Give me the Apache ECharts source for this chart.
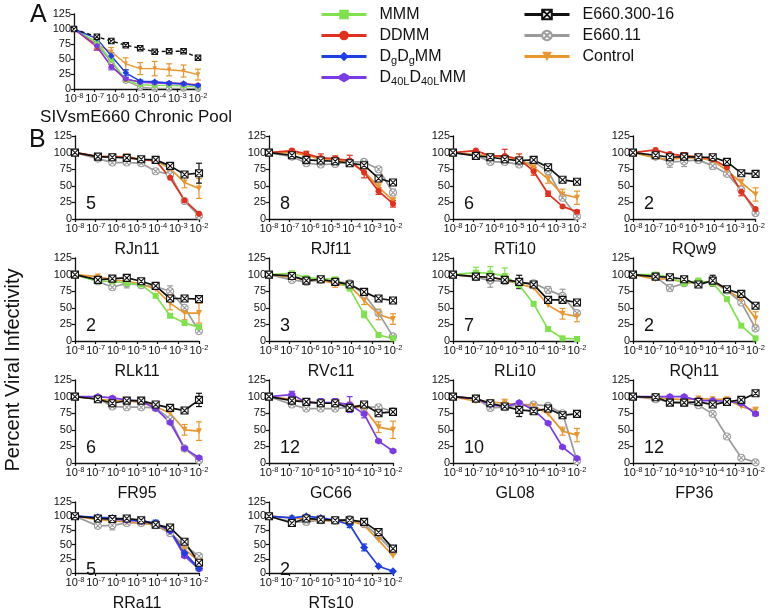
<!DOCTYPE html>
<html><head><meta charset="utf-8">
<script src="https://cdn.jsdelivr.net/npm/echarts@6/dist/echarts.min.js"></script>
<style>html,body{margin:0;padding:0;background:#fff}#c{width:768px;height:613px}</style>
</head><body><div id="c"></div>
<script>
// ---------- DATA ----------
const CONC = [1e-8, 1.28e-7, 6.4e-7, 3.2e-6, 1.6e-5, 8e-5, 4e-4, 2e-3, 1e-2];
const Y_TICKS = [0, 25, 50, 75, 100, 125];
const NAMES = ['MMM', 'DDMM', 'DgDgMM', 'D40LD40LMM', 'E660.300-16', 'E660.11', 'Control'];

const PANEL_A = { title: 'SIVsmE660 Chronic Pool', n: '',
  lines: {
    'E660.11': [100, 75, 45, 14, 3, 1, 1, 1, 1],
    'Control': [100, 74, 62, 42, 34, 34, 32, 30, 24],
    'MMM': [100, 78, 48, 15, 7, 6, 6, 5, 4],
    'DDMM': [100, 70, 38, 16, 12, 11, 10, 9, 7],
    'D40LD40LMM': [100, 72, 37, 17, 11, 10, 9, 8, 6],
    'DgDgMM': [100, 84, 55, 27, 13, 12, 10, 9, 6],
    'E660.300-16': [100, 87, 80, 73, 68, 62, 63, 63, 52]
  },
  errs: {
    'Control': [0, 7, 7, 10, 10, 12, 10, 10, 9],
    'DDMM': [0, 5, 3, 2, 2, 2, 2, 2, 1],
    'D40LD40LMM': [0, 7, 5, 2, 1, 1, 1, 1, 1],
    'DgDgMM': [0, 2, 5, 5, 2, 1, 1, 1, 1]
  }
};
const RJn11 = { title: 'RJn11', n: '5', lines: {
    'E660.11': [100, 91, 85, 85, 84, 72, 67, 27, 5],
    'Control': [100, 94, 94, 94, 90, 88, 76, 55, 46],
    'DDMM': [100, 94, 94, 93, 89, 88, 62, 28, 8],
    'E660.300-16': [100, 94, 93, 92, 90, 89, 80, 67, 69] },
  errs: { 'Control': [0, 2, 3, 3, 2, 2, 3, 8, 15], 'E660.300-16': [0, 0, 0, 0, 0, 0, 0, 0, 15], 'E660.11': [0, 0, 0, 0, 0, 3, 0, 0, 0] } };
const RJf11 = { title: 'RJf11', n: '8', lines: {
    'E660.11': [100, 94, 84, 82, 83, 86, 86, 75, 40],
    'Control': [100, 100, 96, 90, 90, 85, 72, 48, 28],
    'DDMM': [100, 103, 98, 92, 91, 88, 70, 42, 23],
    'E660.300-16': [100, 96, 89, 88, 87, 84, 81, 61, 55] },
  errs: { 'DDMM': [0, 2, 4, 6, 4, 8, 8, 5, 5], 'Control': [0, 0, 0, 0, 0, 0, 0, 6, 4], 'E660.11': [0, 0, 0, 0, 0, 0, 0, 0, 5] } };
const RTi10 = { title: 'RTi10', n: '6', lines: {
    'E660.11': [100, 96, 86, 86, 82, 86, 72, 32, 4],
    'Control': [100, 97, 95, 93, 90, 78, 60, 37, 32],
    'DDMM': [100, 103, 95, 95, 90, 72, 38, 19, 11],
    'E660.300-16': [100, 95, 93, 90, 88, 89, 78, 59, 56] },
  errs: { 'Control': [0, 0, 0, 0, 0, 6, 6, 8, 10], 'DDMM': [0, 0, 0, 10, 8, 6, 4, 0, 2], 'E660.300-16': [0, 5, 0, 0, 0, 0, 4, 0, 0] } };
const RQw9 = { title: 'RQw9', n: '2', lines: {
    'E660.11': [100, 94, 86, 87, 89, 80, 68, 44, 9],
    'Control': [100, 92, 90, 92, 92, 88, 73, 55, 37],
    'DDMM': [100, 104, 98, 95, 94, 90, 78, 41, 15],
    'E660.300-16': [100, 96, 93, 94, 93, 93, 86, 69, 68] },
  errs: { 'E660.11': [0, 0, 8, 8, 0, 5, 0, 0, 0], 'Control': [0, 0, 0, 0, 0, 0, 0, 5, 10], 'DDMM': [0, 0, 0, 5, 0, 5, 0, 6, 0] } };
const RLk11 = { title: 'RLk11', n: '2', lines: {
    'E660.11': [100, 90, 81, 87, 84, 82, 75, 50, 15],
    'Control': [100, 97, 92, 90, 86, 78, 57, 42, 42],
    'MMM': [100, 90, 90, 87, 85, 68, 38, 27, 21],
    'E660.300-16': [100, 92, 94, 95, 90, 83, 64, 64, 63] },
  errs: { 'Control': [0, 0, 0, 0, 0, 0, 10, 10, 15], 'E660.11': [0, 0, 0, 7, 0, 0, 8, 0, 0] } };
const RVc11 = { title: 'RVc11', n: '3', lines: {
    'E660.11': [100, 92, 89, 92, 90, 87, 70, 42, 7],
    'Control': [100, 96, 92, 92, 86, 83, 61, 40, 33],
    'MMM': [100, 102, 95, 94, 93, 79, 40, 9, 4],
    'E660.300-16': [100, 98, 91, 93, 89, 85, 74, 64, 61] },
  errs: { 'Control': [0, 0, 0, 0, 5, 0, 6, 8, 8], 'MMM': [0, 0, 0, 0, 0, 0, 5, 0, 0] } };
const RLi10 = { title: 'RLi10', n: '7', lines: {
    'E660.11': [100, 96, 91, 90, 88, 87, 77, 68, 42],
    'Control': [100, 97, 96, 92, 86, 80, 54, 41, 37],
    'MMM': [100, 103, 102, 98, 84, 56, 18, 4, 3],
    'E660.300-16': [100, 97, 96, 92, 89, 85, 62, 62, 58] },
  errs: { 'MMM': [0, 8, 10, 12, 0, 0, 0, 0, 0], 'E660.11': [0, 0, 10, 0, 0, 0, 5, 10, 0], 'E660.300-16': [0, 0, 0, 0, 10, 0, 0, 0, 0], 'Control': [0, 0, 0, 0, 0, 0, 0, 8, 8] } };
const RQh11 = { title: 'RQh11', n: '2', lines: {
    'E660.11': [100, 97, 80, 87, 89, 89, 76, 58, 19],
    'Control': [100, 93, 94, 88, 88, 90, 77, 63, 34],
    'MMM': [100, 100, 96, 87, 91, 87, 63, 23, 4],
    'E660.300-16': [100, 97, 96, 93, 85, 91, 78, 71, 53] },
  errs: { 'E660.11': [0, 0, 5, 0, 0, 0, 0, 0, 0], 'E660.300-16': [0, 0, 0, 0, 0, 8, 0, 0, 0], 'Control': [0, 0, 0, 0, 0, 0, 0, 5, 10] } };
const FR95 = { title: 'FR95', n: '6', lines: {
    'E660.11': [100, 97, 85, 84, 84, 83, 66, 22, 4],
    'Control': [100, 96, 94, 94, 91, 85, 75, 50, 48],
    'D40LD40LMM': [100, 100, 98, 95, 93, 82, 61, 22, 8],
    'E660.300-16': [100, 96, 90, 94, 94, 88, 83, 79, 95] },
  errs: { 'E660.300-16': [0, 0, 5, 0, 0, 0, 0, 0, 10], 'Control': [0, 0, 0, 0, 0, 0, 0, 8, 14] } };
const GC66 = { title: 'GC66', n: '12', lines: {
    'E660.11': [100, 88, 82, 82, 82, 84, 84, 84, 78],
    'Control': [100, 96, 92, 90, 91, 88, 82, 54, 50],
    'D40LD40LMM': [100, 103, 91, 91, 91, 88, 74, 33, 18],
    'E660.300-16': [100, 94, 92, 90, 90, 83, 88, 75, 77] },
  errs: { 'D40LD40LMM': [0, 5, 0, 6, 6, 12, 6, 0, 0], 'Control': [0, 0, 0, 0, 0, 0, 0, 8, 13] } };
const GL08 = { title: 'GL08', n: '10', lines: {
    'E660.11': [100, 97, 83, 84, 88, 88, 86, 75, 3],
    'Control': [100, 93, 92, 90, 88, 86, 74, 48, 42],
    'D40LD40LMM': [100, 97, 88, 85, 91, 80, 60, 24, 7],
    'E660.300-16': [100, 97, 90, 85, 80, 78, 82, 72, 74] },
  errs: { 'E660.300-16': [0, 0, 0, 0, 10, 0, 6, 0, 5], 'Control': [0, 0, 0, 6, 0, 0, 0, 6, 10] } };
const FP36 = { title: 'FP36', n: '12', lines: {
    'E660.11': [100, 96, 92, 91, 87, 74, 40, 8, 1],
    'Control': [100, 98, 97, 95, 97, 96, 96, 85, 79],
    'D40LD40LMM': [100, 100, 100, 100, 94, 94, 93, 90, 74],
    'E660.300-16': [100, 99, 91, 91, 92, 88, 92, 95, 105] },
  errs: { 'Control': [0, 0, 0, 0, 0, 0, 0, 0, 5], 'D40LD40LMM': [0, 0, 0, 0, 0, 0, 0, 0, 3] } };
const RRa11 = { title: 'RRa11', n: '5', lines: {
    'E660.11': [100, 83, 84, 88, 88, 84, 70, 48, 30],
    'Control': [100, 94, 92, 90, 88, 85, 72, 42, 20],
    'D40LD40LMM': [100, 97, 95, 93, 91, 87, 74, 30, 7],
    'DgDgMM': [100, 98, 97, 94, 92, 88, 75, 35, 8],
    'E660.300-16': [100, 96, 95, 96, 93, 85, 80, 55, 18] },
  errs: { 'E660.11': [0, 0, 8, 0, 0, 0, 0, 0, 0], 'DgDgMM': [0, 0, 0, 0, 0, 5, 0, 0, 0] } };
const RTs10 = { title: 'RTs10', n: '2', lines: {
    'E660.11': [100, 90, 90, 93, 92, 95, 86, 65, 38],
    'Control': [100, 97, 95, 93, 91, 92, 84, 58, 30],
    'DgDgMM': [100, 97, 100, 97, 93, 85, 45, 12, 3],
    'E660.300-16': [100, 88, 96, 94, 93, 93, 90, 72, 43] },
  errs: { 'E660.300-16': [0, 6, 0, 0, 0, 0, 0, 0, 0], 'DgDgMM': [0, 0, 0, 0, 0, 5, 6, 0, 0] } };

// ---------- STYLE / LAYOUT ----------
const HEX = 'path://M5,0L9.5,2.6L9.5,7.4L5,10L0.5,7.4L0.5,2.6Z';
const BOXX = 'path://M0,0H10V10H0Z M1,1L9,9 M9,1L1,9';
const CIRX = 'path://M5,0A5,5,0,1,1,4.99,0Z M1.6,1.6L8.4,8.4 M8.4,1.6L1.6,8.4';
const STY = {
  'MMM': { c: '#7FE24C', sym: 'rect', size: 6 },
  'DDMM': { c: '#E1301D', sym: 'circle', size: 6 },
  'DgDgMM': { c: '#1E3FE4', sym: 'diamond', size: 8 },
  'D40LD40LMM': { c: '#7A3BE6', sym: HEX, size: 7 },
  'E660.300-16': { c: '#111111', sym: BOXX, size: 7, fill: '#ffffff' },
  'E660.11': { c: '#9B9B9B', sym: CIRX, size: 7, fill: '#ffffff' },
  'Control': { c: '#E8962E', sym: 'triangle', size: 6, rot: 180 }
};
const DRAW_ORDER = ['E660.11', 'Control', 'MMM', 'DDMM', 'D40LD40LMM', 'DgDgMM', 'E660.300-16'];
const COLS = [75, 269, 453, 633], ROWS = [136, 258, 380, 502], GW = 124, GH = 83;
const LAYOUT = [
  [RJn11, 0, 0], [RJf11, 1, 0], [RTi10, 2, 0], [RQw9, 3, 0],
  [RLk11, 0, 1], [RVc11, 1, 1], [RLi10, 2, 1], [RQh11, 3, 1],
  [FR95, 0, 2], [GC66, 1, 2], [GL08, 2, 2], [FP36, 3, 2],
  [RRa11, 0, 3], [RTs10, 1, 3]
];

const FONT = 'Liberation Sans, Arial, Helvetica, sans-serif';
const grids = [], xAxes = [], yAxes = [], series = [], graphics = [];

function renderErr(params, api) {
  const x = api.value(0), lo = api.value(1), hi = api.value(2);
  const c = STY[NAMES[api.value(3)]].c;
  const p1 = api.coord([x, lo]), p2 = api.coord([x, hi]);
  const w = 3, st = { stroke: c, lineWidth: 1.2 };
  return { type: 'group', children: [
    { type: 'line', shape: { x1: p1[0], y1: p1[1], x2: p2[0], y2: p2[1] }, style: st },
    { type: 'line', shape: { x1: p1[0] - w, y1: p1[1], x2: p1[0] + w, y2: p1[1] }, style: st },
    { type: 'line', shape: { x1: p2[0] - w, y1: p2[1], x2: p2[0] + w, y2: p2[1] }, style: st }
  ] };
}

function addPanel(p, left, top, w, h, isA) {
  const gi = grids.length;
  grids.push({ left: left, top: top, width: w, height: h, containLabel: false });
  xAxes.push({
    type: 'log', logBase: 10, min: 1e-8, max: 1e-2, gridIndex: gi,
    name: p.title, nameLocation: 'middle', nameGap: isA ? 20 : 23,
    nameTextStyle: { fontFamily: FONT, fontSize: isA ? 17 : 16, color: '#111' },
    axisLine: { lineStyle: { color: '#111', width: 1.3 } },
    axisTick: { length: 3, lineStyle: { color: '#111', width: 1.2 } },
    minorTick: { show: false }, splitLine: { show: false },
    axisLabel: {
      margin: 3, interval: 0, showMinLabel: true, showMaxLabel: true,
      formatter: v => '{b|10}{s|' + Math.round(Math.log10(v)) + '}',
      rich: {
        b: { fontFamily: FONT, fontSize: 11, color: '#111', lineHeight: 13 },
        s: { fontFamily: FONT, fontSize: 7.5, color: '#111', verticalAlign: 'top', lineHeight: 8 }
      }
    }
  });
  yAxes.push({
    type: 'value', min: 0, max: 125, interval: 25, gridIndex: gi,
    axisLine: { show: true, lineStyle: { color: '#111', width: 1.3 } },
    axisTick: { show: true, length: 3, lineStyle: { color: '#111', width: 1.2 } },
    splitLine: { show: false },
    axisLabel: { margin: 3, fontFamily: FONT, fontSize: 11, color: '#111' }
  });
  const errData = [];
  DRAW_ORDER.forEach(name => {
    const vals = p.lines[name];
    if (!vals) return;
    const s = STY[name];
    const dashed = isA && name === 'E660.300-16';
    series.push({
      type: 'line', name: name, xAxisIndex: gi, yAxisIndex: gi,
      data: CONC.map((x, i) => [x, vals[i]]),
      symbol: s.sym, symbolSize: isA ? s.size - 1.5 : s.size, symbolRotate: s.rot || 0,
      showAllSymbol: true, animation: false, z: 3,
      lineStyle: { color: s.c, width: isA ? 1.4 : 1.7, type: dashed ? [4, 3] : 'solid' },
      itemStyle: { color: s.fill || s.c, borderColor: s.c, borderWidth: s.fill ? 1.1 : 0 }
    });
    const e = p.errs && p.errs[name];
    if (e) e.forEach((ev, i) => { if (ev > 0) errData.push([CONC[i], vals[i] - ev, vals[i] + ev, NAMES.indexOf(name)]); });
  });
  if (errData.length) {
    series.push({ type: 'custom', xAxisIndex: gi, yAxisIndex: gi, data: errData, renderItem: renderErr,
      encode: { x: 0, y: [1, 2] }, z: 2, animation: false, silent: true });
  }
  if (p.n) {
    graphics.push({ type: 'text', left: left + 11, top: top + h - 24,
      style: { text: p.n, font: '18px ' + FONT, fill: '#111' } });
  }
}

LAYOUT.forEach(([p, c, r]) => addPanel(p, COLS[c], ROWS[r], GW, GH, false));
addPanel(PANEL_A, 74, 14, 124, 75, true);

graphics.push({ type: 'text', left: 30, top: 3, style: { text: 'A', font: '25px ' + FONT, fill: '#111' } });
graphics.push({ type: 'text', left: 29, top: 128, style: { text: 'B', font: '25px ' + FONT, fill: '#111' } });
graphics.push({ type: 'text', x: 13, y: 370, rotation: Math.PI / 2,
  style: { text: 'Percent Viral Infectivity', font: '20px ' + FONT, fill: '#111', align: 'center', verticalAlign: 'middle' } });

const legendFmt = name => ({ 'DgDgMM': 'D{s|g}D{s|g}MM', 'D40LD40LMM': 'D{s|40L}D{s|40L}MM' }[name] || name);
function legendOf(data, left) {
  return {
    data: data, left: left, top: 0, orient: 'vertical', itemWidth: 45, itemHeight: 12, itemGap: 2,
    selectedMode: false, formatter: legendFmt,
    lineStyle: { width: 3, type: 'solid' },
    textStyle: { fontFamily: FONT, fontSize: 16, color: '#111', lineHeight: 19, padding: [0, 0, 0, 8],
      rich: { s: { fontFamily: FONT, fontSize: 11, color: '#111', verticalAlign: 'bottom', lineHeight: 12 } } }
  };
}

const chart = echarts.init(document.getElementById('c'), null, { renderer: 'canvas' });
chart.setOption({
  backgroundColor: '#fff', animation: false,
  legend: [legendOf(['MMM', 'DDMM', 'DgDgMM', 'D40LD40LMM'], 315), legendOf(['E660.300-16', 'E660.11', 'Control'], 518)],
  grid: grids, xAxis: xAxes, yAxis: yAxes, series: series, graphic: graphics
});
</script></body></html>
